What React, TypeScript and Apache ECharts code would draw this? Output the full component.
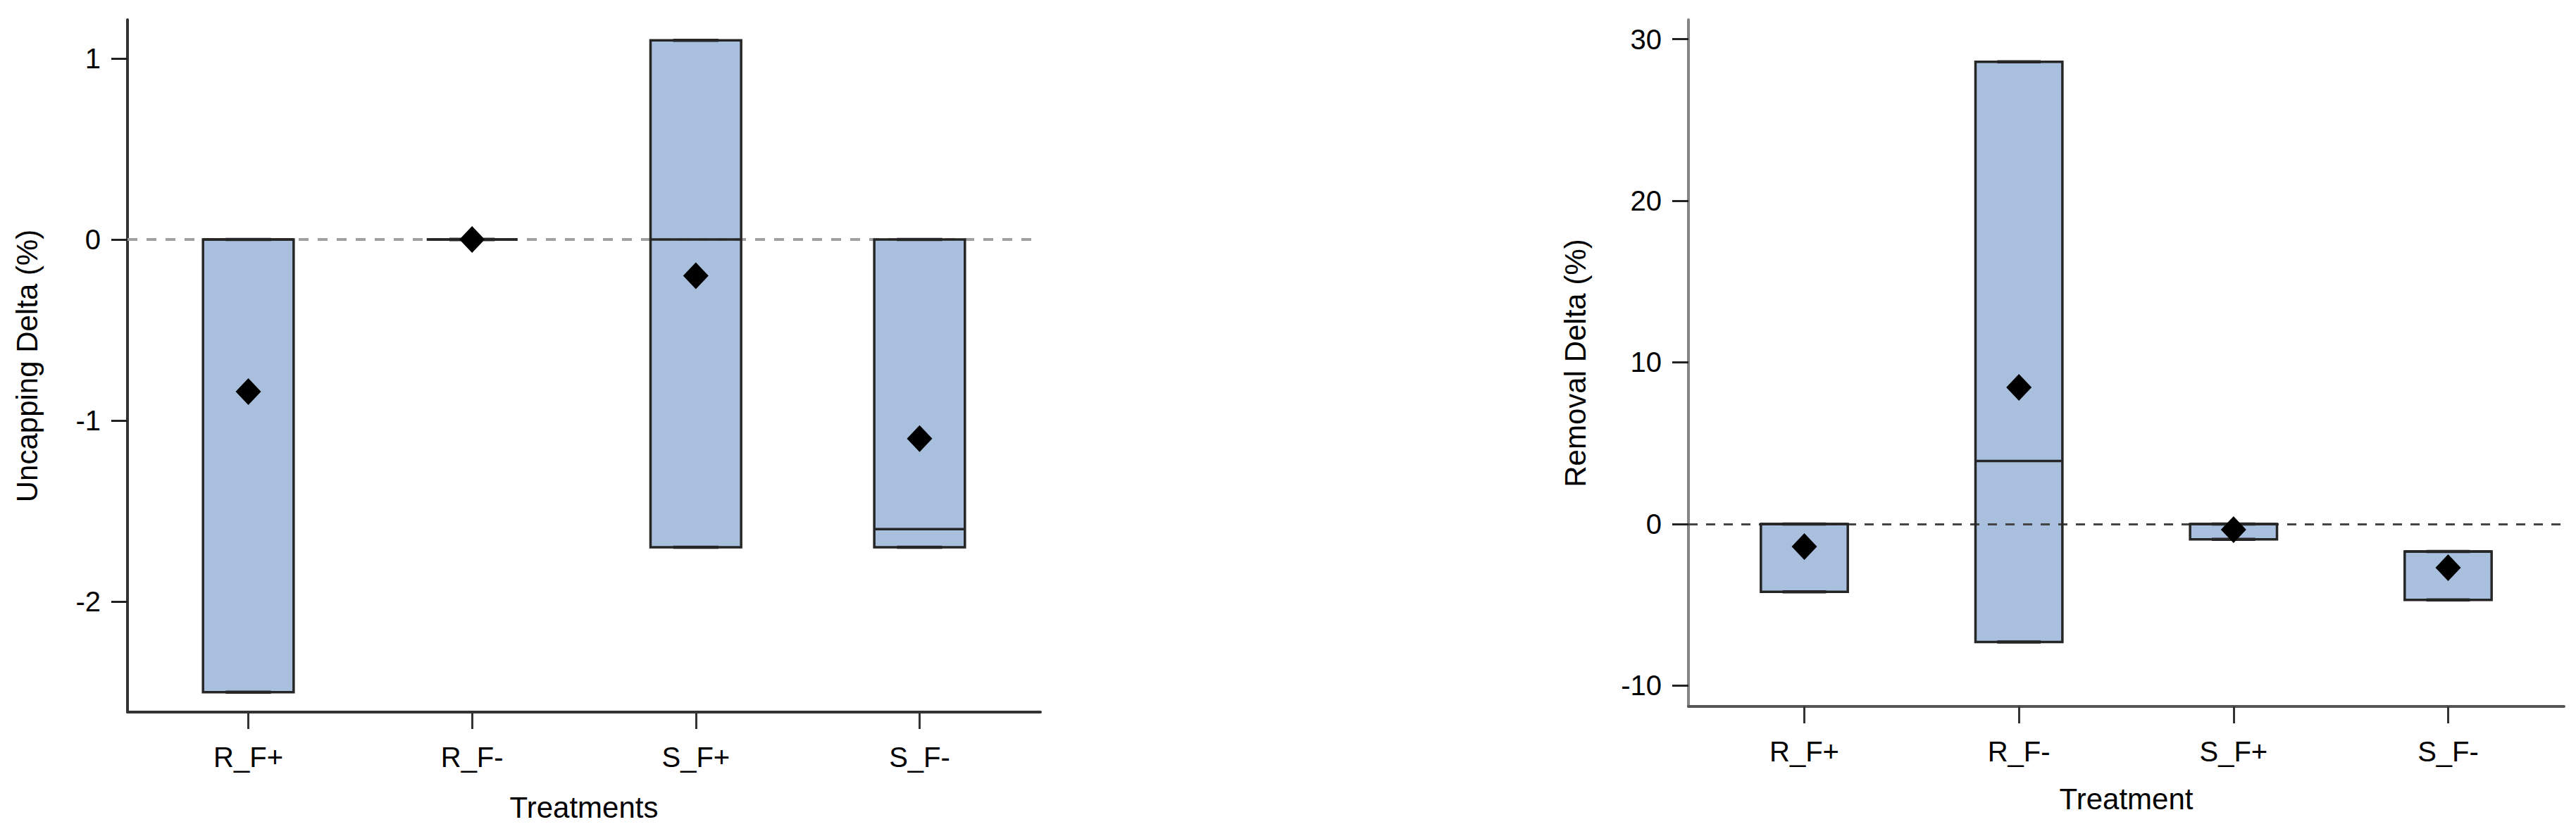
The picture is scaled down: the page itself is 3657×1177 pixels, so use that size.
import React, { useEffect, useRef } from 'react';
import * as echarts from 'echarts';

// categories shared by both panels
const categories = ['R_F+', 'R_F-', 'S_F+', 'S_F-'];

// Uncapping delta (%) - box limits (whiskers coincide with box edges)
const uncapLow = [-2.5, 0, -1.7, -1.7];
const uncapQ1 = [-2.5, 0, -1.7, -1.7];
const uncapMedian = [0, 0, 0, -1.6];
const uncapQ3 = [0, 0, 1.1, 0];
const uncapHigh = [0, 0, 1.1, 0];
const uncapMean = [-0.84, 0, -0.2, -1.1];
const uncapTicks = [-2, -1, 0, 1];

// Removal delta (%)
const removalLow = [-4.2, -7.3, -0.95, -4.7];
const removalQ1 = [-4.2, -7.3, -0.95, -4.7];
const removalMedian = [0, 3.9, 0, -1.7];
const removalQ3 = [0, 28.6, 0, -1.7];
const removalHigh = [0, 28.6, 0, -1.7];
const removalMean = [-1.4, 8.45, -0.35, -2.7];
const removalTicks = [-10, 0, 10, 20, 30];

const FONT = 'Liberation Sans, Arial, sans-serif';
const BOX_W = 0.405;
const FILL = '#a8c0de';
const EDGE = '#262626';

const rows = (lo: number[], q1: number[], md: number[], q3: number[], hi: number[]) =>
  categories.map((_, i) => [i, lo[i], q1[i], md[i], q3[i], hi[i]]);

const boxFill = (params: any, api: any) => {
  const i = api.value(0);
  const tl = api.coord([i - BOX_W / 2, api.value(4)]);
  const br = api.coord([i + BOX_W / 2, api.value(2)]);
  return {
    type: 'rect',
    shape: { x: tl[0], y: tl[1], width: br[0] - tl[0], height: br[1] - tl[1] },
    style: { fill: FILL },
  };
};

const boxEdge = (params: any, api: any) => {
  const i = api.value(0);
  const tl = api.coord([i - BOX_W / 2, api.value(4)]);
  const br = api.coord([i + BOX_W / 2, api.value(2)]);
  const c = api.coord([i, api.value(3)]);
  const lo = api.coord([i, api.value(1)]);
  const hi = api.coord([i, api.value(5)]);
  const capHalf = (br[0] - tl[0]) / 4;
  const line = (x1: number, y1: number, x2: number, y2: number, w: number) => ({
    type: 'line',
    shape: { x1, y1, x2, y2 },
    style: { stroke: EDGE, lineWidth: w },
  });
  return {
    type: 'group',
    children: [
      {
        type: 'rect',
        shape: { x: tl[0], y: tl[1], width: br[0] - tl[0], height: br[1] - tl[1] },
        style: { fill: 'none', stroke: EDGE, lineWidth: 3.5 },
      },
      line(tl[0], c[1], br[0], c[1], 3.5),
      line(c[0], tl[1], c[0], hi[1], 3),
      line(c[0], br[1], c[0], lo[1], 3),
      line(c[0] - capHalf, hi[1], c[0] + capHalf, hi[1], 4.5),
      line(c[0] - capHalf, lo[1], c[0] + capHalf, lo[1], 4.5),
    ],
  };
};

const xAxisFor = (gridIndex: number, lineColor: string) => ({
  type: 'value',
  gridIndex,
  min: -0.54,
  max: 3.54,
  name: gridIndex === 0 ? 'Treatments' : 'Treatment',
  nameLocation: 'middle',
  nameGap: gridIndex === 0 ? 114 : 110,
  nameTextStyle: { fontFamily: FONT, fontSize: 42, color: '#000' },
  splitLine: { show: false },
  axisLine: { show: true, onZero: false, lineStyle: { color: lineColor, width: 4 } },
  axisTick: {
    show: true,
    length: 24,
    customValues: [0, 1, 2, 3],
    lineStyle: { color: '#333', width: 3 },
  },
  axisLabel: {
    customValues: [0, 1, 2, 3],
    formatter: (v: number) => categories[Math.round(v)],
    fontFamily: FONT,
    fontSize: 40,
    color: '#000',
    margin: 44,
  },
});

const yAxisFor = (
  gridIndex: number,
  min: number,
  max: number,
  ticks: number[],
  name: string,
  gap: number,
  lineColor: string,
) => ({
  type: 'value',
  gridIndex,
  min,
  max,
  name,
  nameLocation: 'middle',
  nameGap: gap,
  nameTextStyle: { fontFamily: FONT, fontSize: 42, color: '#000' },
  splitLine: { show: false },
  axisLine: { show: true, onZero: false, lineStyle: { color: lineColor, width: 4 } },
  axisTick: { show: true, length: 23, customValues: ticks, lineStyle: { color: '#222', width: 3 } },
  axisLabel: {
    customValues: ticks,
    fontFamily: FONT,
    fontSize: 40,
    color: '#000',
    margin: 38,
  },
});

const panelSeries = (
  idx: number,
  data: number[][],
  means: number[],
  dash: { color: string; width: number; type: number[] },
) => [
  {
    type: 'custom',
    xAxisIndex: idx,
    yAxisIndex: idx,
    z: 2,
    silent: true,
    renderItem: boxFill,
    encode: { x: 0, y: [1, 2, 3, 4, 5] },
    data,
    markLine: {
      silent: true,
      symbol: ['none', 'none'],
      label: { show: false },
      lineStyle: { color: dash.color, width: dash.width, type: dash.type },
      data: [{ yAxis: 0 }],
    },
  },
  {
    type: 'custom',
    xAxisIndex: idx,
    yAxisIndex: idx,
    z: 6,
    silent: true,
    renderItem: boxEdge,
    encode: { x: 0, y: [1, 2, 3, 4, 5] },
    data,
  },
  {
    type: 'scatter',
    xAxisIndex: idx,
    yAxisIndex: idx,
    z: 7,
    silent: true,
    symbol: 'diamond',
    symbolSize: [36, 38],
    itemStyle: { color: '#000', opacity: 1 },
    data: means.map((m, i) => [i, m]),
  },
];

export default function App() {
  const chartRef = useRef<HTMLDivElement>(null);

  useEffect(() => {
    if (!chartRef.current) return;
    const chart = echarts.init(chartRef.current, null, { renderer: 'svg' });

    chart.setOption({
      animation: false,
      backgroundColor: '#fff',
      grid: [
        { left: 181, top: 28, width: 1296, height: 983 },
        { left: 2397, top: 28, width: 1243, height: 975 },
      ],
      xAxis: [xAxisFor(0, '#333'), xAxisFor(1, '#555')],
      yAxis: [
        yAxisFor(0, -2.61, 1.214, uncapTicks, 'Uncapping Delta (%)', 122, '#333'),
        yAxisFor(1, -11.29, 31.2, removalTicks, 'Removal Delta (%)', 140, '#858585'),
      ],
      series: [
        ...panelSeries(
          0,
          rows(uncapLow, uncapQ1, uncapMedian, uncapQ3, uncapHigh),
          uncapMean,
          { color: '#a0a0a0', width: 4, type: [14, 13] },
        ),
        ...panelSeries(
          1,
          rows(removalLow, removalQ1, removalMedian, removalQ3, removalHigh),
          removalMean,
          { color: '#444', width: 3, type: [13, 12] },
        ),
      ],
    });

    return () => {
      chart.dispose();
    };
  }, []);

  return (
    <div
      ref={chartRef}
      style={{ position: 'absolute', left: 0, top: 0, width: '3657px', height: '1177px' }}
    />
  );
}
